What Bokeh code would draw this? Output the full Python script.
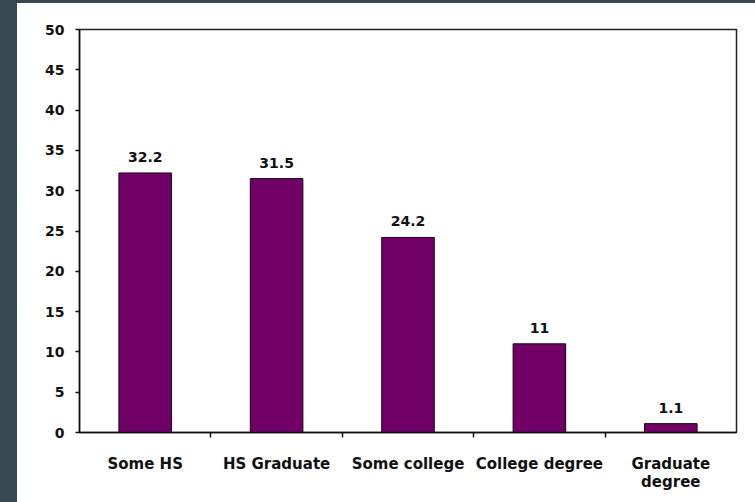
from bokeh.plotting import figure
from bokeh.models import ColumnDataSource, FixedTicker, Range1d, Div, LabelSet
from bokeh.layouts import column, row
from bokeh.core.properties import value
from bokeh.embed import file_html
from bokeh.resources import INLINE

categories = ["Some HS", "HS Graduate", "Some college", "College degree", "Graduate\ndegree"]
values = [32.2, 31.5, 24.2, 11, 1.1]
value_labels = ["32.2", "31.5", "24.2", "11", "1.1"]
y_ticks = [0, 5, 10, 15, 20, 25, 30, 35, 40, 45, 50]

xs = [i + 0.5 for i in range(len(categories))]
src = ColumnDataSource(dict(x=xs, top=values, lab=value_labels))

FONT = "DejaVu Sans"
DARK = "#37474f"

p = figure(width=738, height=499, output_backend="svg", toolbar_location=None,
           x_range=Range1d(0, 5), y_range=Range1d(0, 50),
           min_border_left=62, min_border_right=19, min_border_top=26, min_border_bottom=70,
           background_fill_color="white", border_fill_color="white")
p.outline_line_color = "#222222"
p.outline_line_width = 1.5
p.grid.visible = False

p.vbar(x="x", top="top", width=0.4, bottom=0, source=src,
       fill_color="#700066", line_color="#1a0018", line_width=1)

labels = LabelSet(x="x", y="top", text="lab", source=src, y_offset=11,
                  text_align="center", text_baseline="bottom",
                  text_font=value(FONT), text_font_style="bold", text_font_size="14px",
                  text_color="#111111")
p.add_layout(labels)

# y axis
p.yaxis.ticker = FixedTicker(ticks=y_ticks)
p.yaxis.axis_line_color = "#111111"
p.yaxis.axis_line_width = 1.5
p.yaxis.major_tick_line_color = "#111111"
p.yaxis.major_tick_line_width = 1.5
p.yaxis.major_tick_out = 4
p.yaxis.major_tick_in = 0
p.yaxis.minor_tick_line_color = None
p.yaxis.major_label_standoff = 11
p.yaxis.major_label_text_font = FONT
p.yaxis.major_label_text_font_style = "bold"
p.yaxis.major_label_text_font_size = "14px"
p.yaxis.major_label_text_color = "#111111"

# x axis
p.xaxis.ticker = FixedTicker(ticks=xs, minor_ticks=[1, 2, 3, 4])
p.xaxis.major_label_overrides = {x: c for x, c in zip(xs, categories)}
p.xaxis.axis_line_color = "#111111"
p.xaxis.axis_line_width = 1.5
p.xaxis.major_tick_line_color = None
p.xaxis.major_tick_out = 0
p.xaxis.major_tick_in = 0
p.xaxis.minor_tick_line_color = "#111111"
p.xaxis.minor_tick_line_width = 1.5
p.xaxis.minor_tick_out = 5
p.xaxis.minor_tick_in = 0
p.xaxis.major_label_standoff = 17
p.xaxis.major_label_text_font = FONT
p.xaxis.major_label_text_font_style = "bold"
p.xaxis.major_label_text_font_size = "15px"
p.xaxis.major_label_text_color = "#111111"
p.xaxis.major_label_text_line_height = 1.0

top_strip = Div(width=755, height=3, styles={"background-color": DARK}, margin=0)
left_strip = Div(width=17, height=499, styles={"background-color": DARK}, margin=0)
layout = column(top_strip, row(left_strip, p, spacing=0), spacing=0)

open("out.html", "w").write(file_html(layout, INLINE))
